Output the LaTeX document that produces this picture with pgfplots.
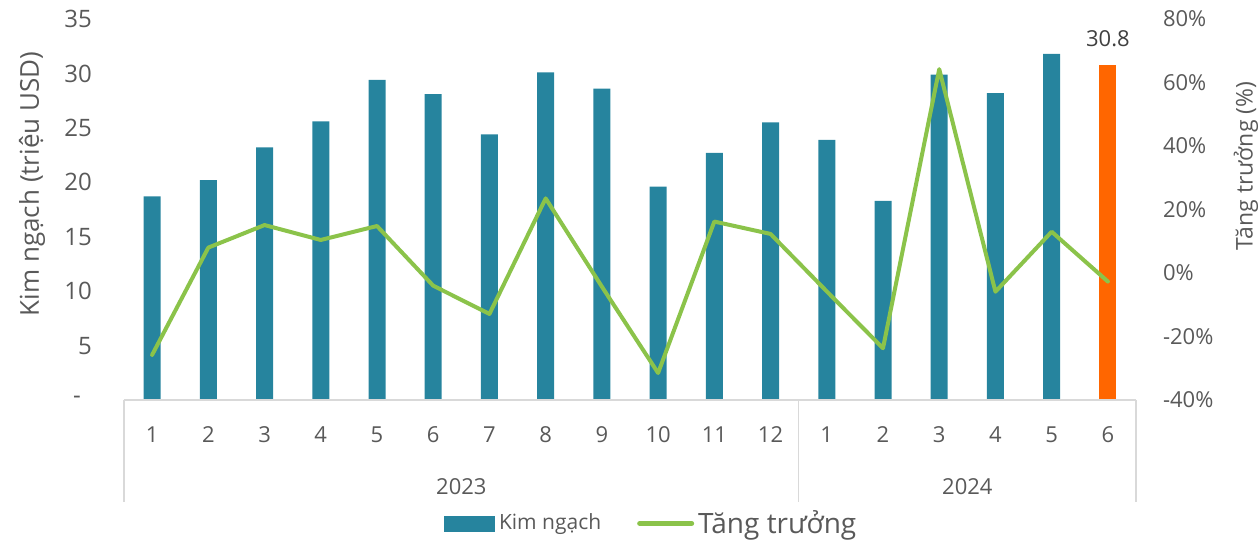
\documentclass[border=0pt]{standalone}
\usepackage{fontspec}
\setmainfont{Open Sans}
\usepackage{pgfplots}
\pgfplotsset{compat=1.18}
\definecolor{kteal}{RGB}{38,132,158}
\definecolor{korange}{RGB}{255,102,0}
\definecolor{kgreen}{RGB}{139,195,74}
\definecolor{ktext}{RGB}{89,89,89}
\definecolor{kline}{RGB}{217,217,217}
\begin{document}
\begin{tikzpicture}
\useasboundingbox (-62pt,-70.5pt) rectangle (567.5pt,200pt);
\begin{axis}[
  scale only axis, width=506pt, height=190.5pt,
  xmin=-0.5, xmax=17.5, ymin=0, ymax=35,
  axis line style={draw=none},
  tick style={draw=none},
  ytick={5,10,...,35},
  yticklabels={5,10,15,20,25,30,35},
  extra y ticks={0},
  extra y tick labels={-},
  extra y tick style={yticklabel style={xshift=-5.5pt}},
  ytick pos=left,
  yticklabel style={font=\fontsize{12}{14}\selectfont, text=ktext, xshift=-12.5pt},
  xtick={0,...,17},
  xticklabels={1,2,3,4,5,6,7,8,9,10,11,12,1,2,3,4,5,6},
  xtick pos=bottom,
  xticklabel style={font=\fontsize{11}{13}\selectfont, text=ktext, anchor=center, yshift=-17.5pt},
  ylabel={Kim ngạch (triệu USD)},
  ylabel style={font=\fontsize{13}{15}\selectfont, text=ktext, at={(rel axis cs:-0.0909,0.567)}, anchor=center},
  clip=false,
]
\addplot[ybar, bar width=8.5pt, bar shift=0pt, fill=kteal, draw=none] coordinates {
(0,18.7) (1,20.2) (2,23.2) (3,25.6) (4,29.4) (5,28.1) (6,24.4) (7,30.1) (8,28.6) (9,19.6) (10,22.7) (11,25.5)
(12,23.9) (13,18.3) (14,29.9) (15,28.2) (16,31.8)};
\addplot[ybar, bar width=8.5pt, bar shift=0pt, fill=korange, draw=none,
  nodes near coords={\pgfmathprintnumber[fixed,precision=1,fixed zerofill,assume math mode=true]{\pgfplotspointmeta}},
  every node near coord/.append style={font=\fontsize{11}{13}\selectfont, text=black!75, anchor=south, yshift=5.5pt}] coordinates {(17,30.8)};
\draw[kline, line width=0.75pt] (axis cs:-0.5,0) -- (axis cs:17.5,0);
\draw[kline, line width=0.75pt] (axis cs:-0.5,0) -- ([yshift=-51pt]axis cs:-0.5,0);
\draw[kline, line width=0.75pt] (axis cs:11.5,0) -- ([yshift=-51pt]axis cs:11.5,0);
\draw[kline, line width=0.75pt] (axis cs:17.5,0) -- ([yshift=-51pt]axis cs:17.5,0);
\node[font=\fontsize{11}{13}\selectfont, text=ktext] at ([yshift=-43.5pt]axis cs:5.5,0) {2023};
\node[font=\fontsize{11}{13}\selectfont, text=ktext] at ([yshift=-43.5pt]axis cs:14.5,0) {2024};
\end{axis}
\begin{axis}[
  scale only axis, width=506pt, height=190.5pt,
  xmin=-0.5, xmax=17.5, ymin=-40, ymax=80,
  axis line style={draw=none},
  tick style={draw=none},
  xtick=\empty,
  ytick={-40,-20,...,80},
  yticklabels={-40\%,-20\%,0\%,20\%,40\%,60\%,80\%},
  ytick pos=right,
  yticklabel style={font=\fontsize{11}{13}\selectfont, text=ktext, xshift=10pt},
  ylabel={Tăng trưởng (\%)},
  ylabel style={font=\fontsize{11.5}{13}\selectfont, text=ktext, at={(rel axis cs:1.1087,0.614)}, anchor=center, rotate=0},
  clip=false,
  legend columns=2,
  legend style={draw=none, fill=none, at={(rel axis cs:0.522,-0.324)}, anchor=center,
    /tikz/every even column/.append style={column sep=16pt}},
]
\addlegendimage{legend image code/.code={\fill[kteal] (0pt,-3.75pt) rectangle (25pt,3.75pt);}}
\addlegendentry{\fontsize{10.5}{12}\selectfont\color{ktext}Kim ngạch}
\addplot[kgreen, line width=2pt, line cap=round, line join=round, mark=none,
  legend image code/.code={\draw[kgreen, line width=2.5pt] (0pt,0pt) -- (26pt,0pt);}] coordinates {
(0,-25.8) (1,8.0) (2,15.1) (3,10.4) (4,14.8) (5,-4.0) (6,-12.9) (7,23.5) (8,-4.3) (9,-31.5) (10,16.2) (11,12.3)
(12,-5.8) (13,-23.7) (14,64.2) (15,-5.9) (16,13.0) (17,-2.7)};
\addlegendentry{\fontsize{14}{16}\selectfont\color{ktext}Tăng trưởng}
\end{axis}
\end{tikzpicture}
\end{document}
